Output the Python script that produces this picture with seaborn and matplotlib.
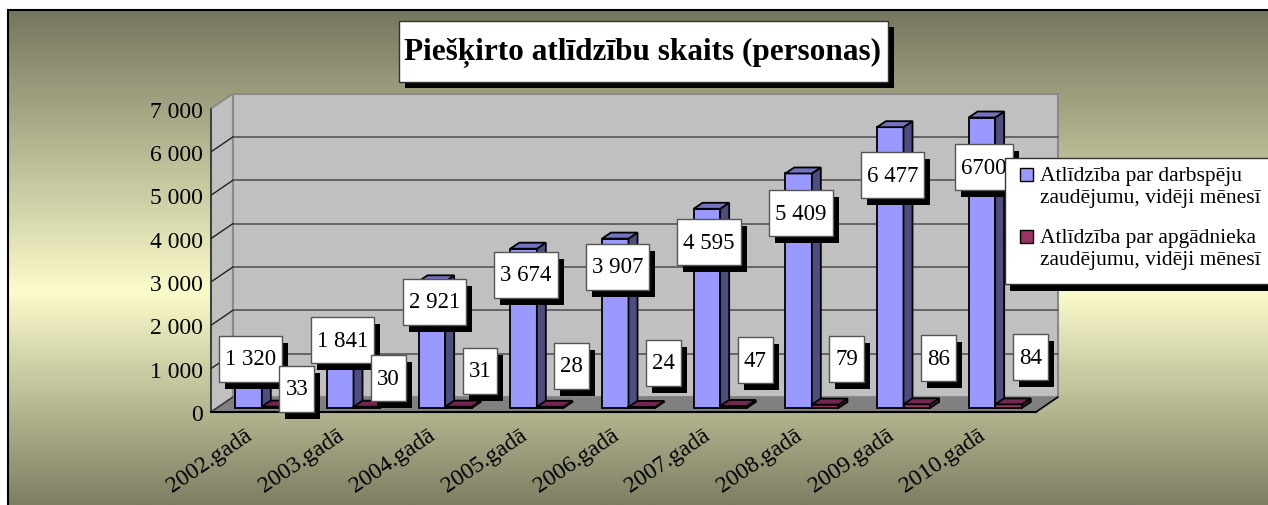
import numpy as np
import pandas as pd
import seaborn as sns
import matplotlib.pyplot as plt
import matplotlib.transforms as mtransforms
from matplotlib.patches import Rectangle, Polygon
from matplotlib.colors import LinearSegmentedColormap

# Data
years = ["2002.gadā", "2003.gadā", "2004.gadā", "2005.gadā", "2006.gadā",
         "2007.gadā", "2008.gadā", "2009.gadā", "2010.gadā"]
darbspeja = [1320, 1841, 2921, 3674, 3907, 4595, 5409, 6477, 6700]
apgadnieks = [33, 30, 31, 28, 24, 47, 79, 86, 84]
darbspeja_labels = ["1 320", "1 841", "2 921", "3 674", "3 907", "4 595", "5 409", "6 477", "6700"]
apgadnieks_labels = ["33", "30", "31", "28", "24", "47", "79", "86", "84"]
series_names = ["Atlīdzība par darbspēju\nzaudējumu, vidēji mēnesī",
                "Atlīdzība par apgādnieka\nzaudējumu, vidēji mēnesī"]
y_ticks = [0, 1000, 2000, 3000, 4000, 5000, 6000, 7000]
title = "Piešķirto atlīdzību skaits (personas)"

sns.set_style("white")
plt.rcParams['font.family'] = ['Liberation Serif', 'DejaVu Serif']
plt.rcParams['text.color'] = 'black'
plt.rcParams['xtick.color'] = 'black'
plt.rcParams['ytick.color'] = 'black'

W, H = 1268, 506
fig = plt.figure(figsize=(W / 100, H / 100), dpi=100)


def fx(px):
    return px / W


def fy(py):
    return 1 - py / H


# gradient background with border
bg = fig.add_axes([fx(8), 0, 1 - fx(8), fy(11)])
grad = LinearSegmentedColormap.from_list(
    "bg", [(0, "#76765e"), (0.57, "#fbfbcb"), (1, "#7e7e63")])
bg.imshow(np.linspace(0, 1, 256)[:, None], aspect="auto", cmap=grad,
          extent=[0, 1, 0, 1])
bg.set_xticks([])
bg.set_yticks([])
for s in ["right", "bottom"]:
    bg.spines[s].set_visible(False)
for s in ["left", "top"]:
    bg.spines[s].set_color("black")
    bg.spines[s].set_linewidth(1.5)

# main axes = front plane of the 3D box
x0, x1 = 211, 1036
y0, y1 = 413, 109.5
ax = fig.add_axes([fx(x0), fy(y0), fx(x1) - fx(x0), fy(y1) - fy(y0)])
ax.patch.set_alpha(0)
ppx = (x1 - x0) / 9
ppy = (y0 - y1) / 7000


def dxp(p):
    return p / ppx


def dyp(p):
    return p / ppy


df = pd.DataFrame({
    "year": years * 2,
    "value": darbspeja + apgadnieks,
    "series": [series_names[0]] * len(years) + [series_names[1]] * len(years),
})
colors = ["#9999ff", "#993366"]
side_cols = ["#4d4d80", "#4d1a33"]
top_cols = ["#7373bf", "#732650"]

sns.barplot(data=df, x="year", y="value", hue="series", palette=colors,
            saturation=1, width=0.58, edgecolor="black", linewidth=1.3,
            errorbar=None, legend=False, ax=ax)
ax.set_xlim(-0.5, 8.5)
ax.set_ylim(0, 7000)

# walls and floor
wx, wy = dxp(22), dyp(15)
ax.add_patch(Polygon([(-0.5, 0), (-0.5, 7000), (-0.5 + wx, 7000 + wy), (-0.5 + wx, wy)],
                     fc="#c0c0c0", ec="#8a8a8a", lw=1.5, clip_on=False, zorder=0))
ax.add_patch(Rectangle((-0.5 + wx, wy), 9, 7000, fc="#c0c0c0", ec="#8a8a8a",
                       lw=1.5, clip_on=False, zorder=0))
ax.add_patch(Polygon([(-0.5, 0), (8.5, 0), (8.5 + wx, wy), (-0.5 + wx, wy)],
                     fc="#808080", ec="none", clip_on=False, zorder=0.5))
ax.plot([8.5, 8.5 + wx], [0, wy], color="black", lw=1.2, clip_on=False, zorder=1)
ax.plot([-0.5, -0.5 + wx], [0, wy], color="#333333", lw=1, clip_on=False, zorder=1)
for v in y_ticks[1:-1]:
    ax.plot([-0.5 + wx, 8.5 + wx], [v + wy, v + wy], color="#555555", lw=1.2,
            clip_on=False, zorder=1)
    ax.plot([-0.5, -0.5 + wx], [v, v + wy], color="#222222", lw=1,
            clip_on=False, zorder=1)

# 3D look for the bars
shift_x, shift_y = dxp(5), dyp(4)
deep_x, deep_y = dxp(9), dyp(6)
for k, cont in enumerate(ax.containers):
    for bar in cont:
        bar.set_x(bar.get_x() + shift_x)
        bar.set_y(bar.get_y() + shift_y)
        bar.set_zorder(3 + k)
        bar.set_clip_on(False)
        x, y, w, h = bar.get_x(), bar.get_y(), bar.get_width(), bar.get_height()
        ax.add_patch(Polygon([(x + w, y), (x + w + deep_x, y + deep_y),
                              (x + w + deep_x, y + h + deep_y), (x + w, y + h)],
                             fc=side_cols[k], ec="black", lw=1.3, zorder=3.5 + k,
                             clip_on=False))
        ax.add_patch(Polygon([(x, y + h), (x + w, y + h),
                              (x + w + deep_x, y + h + deep_y), (x + deep_x, y + h + deep_y)],
                             fc=top_cols[k], ec="black", lw=1.3, zorder=3.5 + k,
                             clip_on=False))

# axes styling
for s in ["top", "right"]:
    ax.spines[s].set_visible(False)
ax.spines["left"].set_color("#333333")
ax.spines["left"].set_linewidth(1.2)
ax.spines["bottom"].set_color("black")
ax.spines["bottom"].set_linewidth(1.5)
ax.spines["left"].set_zorder(2)
ax.spines["bottom"].set_zorder(2)
ax.set_yticks(y_ticks)
ax.set_yticklabels([f"{v:,}".replace(",", " ") for v in y_ticks])
ax.tick_params(axis="y", direction="out", length=3.5, width=1, color="#333333",
               labelcolor="black", pad=2, labelsize=17)
ax.set_xticks(range(len(years)))
ax.set_xticklabels(years, rotation=34, ha="right", va="center",
                   rotation_mode="anchor", fontsize=17, color="black")
ax.tick_params(axis="x", which="major", length=0, pad=15)
ax.set_xticks(np.arange(-0.5, len(years), 1), minor=True)
ax.tick_params(axis="x", which="minor", length=4.5, width=1, color="black",
               direction="out")
ax.set_xlabel("")
ax.set_ylabel("")
shift = mtransforms.ScaledTranslation(-7 / 100, 0, fig.dpi_scale_trans)
for lab in ax.get_xticklabels():
    lab.set_transform(lab.get_transform() + shift)

# data labels in boxes with shadow
fig.canvas.draw()
renderer = fig.canvas.get_renderer()


def boxed(xd, yd, text, z):
    t = ax.text(xd, yd, text, ha="center", va="center", fontsize=16.5,
                color="black", zorder=z + 0.2, clip_on=False)
    bb = t.get_window_extent(renderer)
    wd, hd = dxp(bb.width + 12), dyp(46)
    ax.add_patch(Rectangle((xd - wd / 2 + dxp(6), yd - hd / 2 - dyp(7)), wd, hd,
                           fc="black", ec="none", zorder=z, clip_on=False))
    ax.add_patch(Rectangle((xd - wd / 2, yd - hd / 2), wd, hd, fc="white",
                           ec="#555555", lw=1, zorder=z + 0.1, clip_on=False))


for i, (v, lab) in enumerate(zip(darbspeja, darbspeja_labels)):
    boxed(i - dxp(6), 0.82 * v + 150, lab, 6 + 0.5 * i)
for i, lab in enumerate(apgadnieks_labels):
    boxed(i + dxp(40), dyp(23 + 33 * (1 - np.exp(-i / 2.5))), lab, 6.2 + 0.5 * i)

# title box
tt = fig.text(fx(643), fy(53), title, ha="center", va="center", fontsize=22.5,
              fontweight="bold", color="black", zorder=12)
bb = tt.get_window_extent(renderer)
tw = bb.width + 12
fig.add_artist(Rectangle((fx(643 - tw / 2 + 6), fy(83 + 6)), fx(tw), 61 / H,
                         transform=fig.transFigure, fc="black", ec="none", zorder=10))
fig.add_artist(Rectangle((fx(643 - tw / 2), fy(83)), fx(tw), 61 / H,
                         transform=fig.transFigure, fc="white", ec="#333333",
                         lw=1, zorder=11))

# legend
fig.add_artist(Rectangle((fx(1010), fy(292)), fx(300), 126 / H,
                         transform=fig.transFigure, fc="black", ec="none", zorder=10))
fig.add_artist(Rectangle((fx(1005), fy(285)), fx(300), 126 / H,
                         transform=fig.transFigure, fc="white", ec="#333333",
                         lw=1, zorder=11))
for k in range(2):
    ytop = 169 + 62 * k
    fig.add_artist(Rectangle((fx(1020), fy(ytop + 13)), fx(13), 13 / H,
                             transform=fig.transFigure, fc=colors[k], ec="black",
                             lw=1, zorder=12))
    fig.text(fx(1040), fy(187.5 + 62 * k), series_names[k], ha="left", va="center",
             fontsize=15.5, linespacing=1.2, color="black", zorder=12)

fig.savefig("out.png", dpi=100)
